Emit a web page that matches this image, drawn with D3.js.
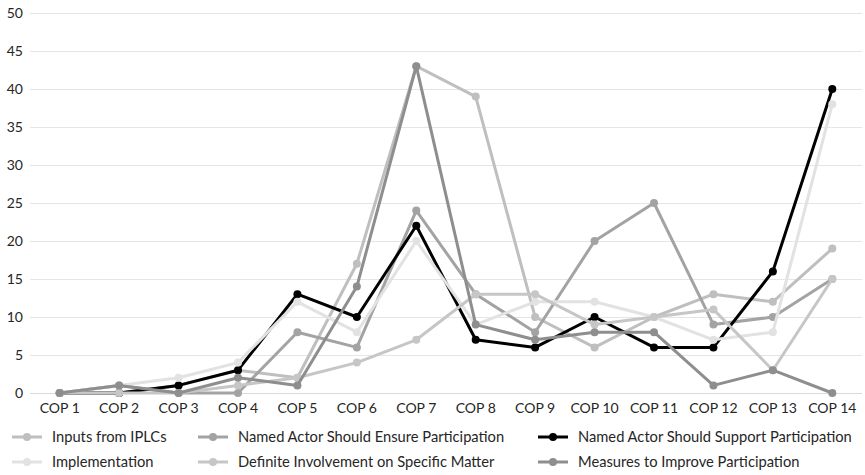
<!DOCTYPE html>
<html>
<head>
<meta charset="utf-8">
<script src="https://cdn.jsdelivr.net/npm/d3@7/dist/d3.min.js"></script>
<style>
  body { margin: 0; background: #fff; }
  svg text { font-family: Lato, "Open Sans", sans-serif; fill: #262626; }
</style>
</head>
<body>
<svg id="chart"></svg>
<script>
const categories = ['COP 1', 'COP 2', 'COP 3', 'COP 4', 'COP 5', 'COP 6', 'COP 7',
  'COP 8', 'COP 9', 'COP 10', 'COP 11', 'COP 12', 'COP 13', 'COP 14'];

const inputsFromIPLCs = [0, 0, 1, 3, 2, 17, 43, 39, 10, 6, 10, 13, 12, 19];
const ensureParticipation = [0, 1, 0, 0, 8, 6, 24, 13, 8, 20, 25, 9, 10, 15];
const supportParticipation = [0, 0, 1, 3, 13, 10, 22, 7, 6, 10, 6, 6, 16, 40];
const implementation = [0, 1, 2, 4, 12, 8, 20, 9, 12, 12, 10, 7, 8, 38];
const definiteInvolvement = [0, 0, 0, 1, 2, 4, 7, 13, 13, 9, 10, 11, 3, 15];
const measuresToImprove = [0, 1, 0, 2, 1, 14, 43, 9, 7, 8, 8, 1, 3, 0];

const seriesNames = ['Inputs from IPLCs', 'Named Actor Should Ensure Participation',
  'Named Actor Should Support Participation', 'Implementation',
  'Definite Involvement on Specific Matter', 'Measures to Improve Participation'];

const yTicks = [0, 5, 10, 15, 20, 25, 30, 35, 40, 45, 50];

const width = 865, height = 475;
const margin = { top: 13, right: 3, bottom: 82, left: 30 };

const series = [
  { name: seriesNames[0], values: inputsFromIPLCs, color: '#bfbfbf' },
  { name: seriesNames[1], values: ensureParticipation, color: '#a3a3a3' },
  { name: seriesNames[2], values: supportParticipation, color: '#000000' },
  { name: seriesNames[3], values: implementation, color: '#e2e2e2' },
  { name: seriesNames[4], values: definiteInvolvement, color: '#c6c6c6' },
  { name: seriesNames[5], values: measuresToImprove, color: '#8e8e8e' }
];

const svg = d3.select('#chart')
  .attr('width', width)
  .attr('height', height);

const x = d3.scaleBand()
  .domain(categories)
  .range([margin.left, width - margin.right]);

const y = d3.scaleLinear()
  .domain([0, 50])
  .range([height - margin.bottom, margin.top]);

// gridlines
svg.append('g')
  .selectAll('line')
  .data(yTicks)
  .join('line')
  .attr('x1', margin.left)
  .attr('x2', width - margin.right)
  .attr('y1', d => Math.round(y(d)) + 0.5)
  .attr('y2', d => Math.round(y(d)) + 0.5)
  .attr('stroke', d => d === 0 ? '#d9d9d9' : '#e5e5e5')
  .attr('stroke-width', 1);

// y axis labels
const yAxis = svg.append('g')
  .attr('transform', `translate(${margin.left - 7},0)`)
  .call(d3.axisLeft(y).tickValues(yTicks).tickSize(0).tickPadding(0));
yAxis.select('.domain').remove();
yAxis.selectAll('text')
  .style('font-size', '14px')
  .attr('text-anchor', 'end');

// x axis labels
const xAxis = svg.append('g')
  .attr('transform', `translate(0,${height - margin.bottom})`)
  .call(d3.axisBottom(x).tickSize(0).tickPadding(10));
xAxis.select('.domain').remove();
xAxis.selectAll('text').style('font-size', '14px');

const line = d3.line()
  .x((d, i) => x(categories[i]) + x.bandwidth() / 2)
  .y(d => y(d));

const groups = svg.append('g')
  .selectAll('g')
  .data(series)
  .join('g');

groups.append('path')
  .attr('d', d => line(d.values))
  .attr('fill', 'none')
  .attr('stroke', d => d.color)
  .attr('stroke-width', 3)
  .attr('stroke-linejoin', 'round');

groups.selectAll('circle')
  .data(d => d.values.map((v, i) => ({ v, i, color: d.color })))
  .join('circle')
  .attr('cx', d => x(categories[d.i]) + x.bandwidth() / 2)
  .attr('cy', d => y(d.v))
  .attr('r', 4)
  .attr('fill', d => d.color);

// legend
const legendCols = [12, 198, 538];
const legendRows = [437, 462];

const legend = svg.append('g')
  .selectAll('g')
  .data(series)
  .join('g')
  .attr('transform', (d, i) => `translate(${legendCols[i % 3]},${legendRows[Math.floor(i / 3)]})`);

legend.append('line')
  .attr('x1', 0).attr('x2', 30)
  .attr('y1', 0).attr('y2', 0)
  .attr('stroke', d => d.color)
  .attr('stroke-width', 3);

legend.append('circle')
  .attr('cx', 15).attr('cy', 0).attr('r', 4)
  .attr('fill', d => d.color);

legend.append('text')
  .attr('x', 40)
  .attr('y', 0)
  .attr('dy', '0.35em')
  .style('font-size', '14.7px')
  .text(d => d.name);
</script>
</body>
</html>
